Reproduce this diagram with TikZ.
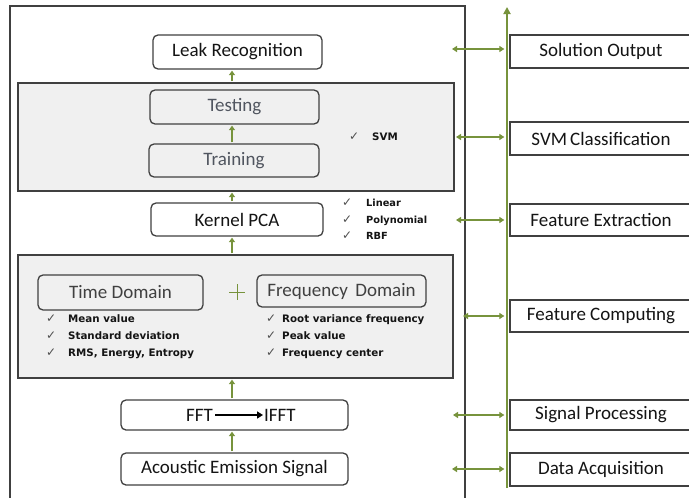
\documentclass[tikz,border=0pt]{standalone}
\usepackage{fontspec}
\setmainfont{Carlito}
\newfontfamily\listf{DejaVu Sans}
\usetikzlibrary{arrows.meta}
\definecolor{grn}{RGB}{119,147,60}
\definecolor{boxc}{RGB}{64,64,64}
\definecolor{panelc}{RGB}{240,240,240}
\definecolor{txt}{RGB}{20,20,20}
\definecolor{txtg}{RGB}{80,85,95}
\definecolor{ckc}{RGB}{80,80,80}
\newcommand{\bigf}{\fontsize{19}{22}\selectfont}
\newcommand{\smf}{\listf\bfseries\fontsize{10.3}{17}\selectfont}
\newcommand{\ckm}[1]{\makebox[#1][l]{\color{ckc}\listf\mdseries\fontsize{12}{12}\selectfont ✓}}
\tikzset{
  box/.style={draw=boxc, line width=1.3pt, rounded corners=5pt, fill=white, font=\bigf, text=txt, inner sep=0pt},
  ibox/.style={draw=boxc, line width=1.3pt, rounded corners=5pt, font=\bigf, inner sep=0pt},
  panel/.style={draw=boxc, line width=1.3pt, fill=panelc, inner sep=0pt},
  rbox/.style={draw=boxc, line width=1.3pt, fill=white, font=\bigf, text=txt, inner sep=0pt},
  uparr/.style={draw=grn, line width=1.8pt, -{Triangle[length=4.5pt,width=6pt]}, shorten <=1pt, shorten >=1pt},
  darr/.style={draw=grn, line width=1.8pt, {Triangle[length=5pt,width=6pt]}-{Triangle[length=5pt,width=6pt]}},
  lst/.style={anchor=west, align=left, inner sep=0pt, text=txt, font=\smf},
}
\begin{document}
\begin{tikzpicture}[x=1pt, y=-1pt]
\clip (0,0) rectangle (689,498);
\fill[white] (0,0) rectangle (689,498);
% outer frame
\draw[boxc, line width=1.3pt] (10,510) -- (10,6) -- (465,6) -- (465,510);
\coordinate (ax) at (232,0);

% left column
\node[box, minimum width=169pt, minimum height=34pt] (leak) at (237.5,52) {Leak Recognition};
\node[panel, minimum width=436pt, minimum height=108pt] (svmp) at (236,137) {};
\node[ibox, text=txtg, minimum width=169pt, minimum height=34pt] (test) at (234.5,107) {Testing};
\node[ibox, text=txtg, minimum width=170pt, minimum height=33pt] (train) at (234,160.5) {Training};
\node[lst] (svml) at (349,137) {\ckm{23pt}SVM};

\node[box, minimum width=172pt, minimum height=33pt] (kpca) at (237,219.5) {Kernel PCA};
\node[lst, font=\listf\bfseries\fontsize{9.8}{16.5}\selectfont] (kl) at (342,219.5) {\ckm{24pt}Linear\\\ckm{24pt}Polynomial\\\ckm{24pt}RBF};

\node[panel, minimum width=435pt, minimum height=123pt] (fpan) at (235.5,316.5) {};
\node[ibox, text=boxc, minimum width=165pt, minimum height=35pt] (td) at (120.5,292.5) {Time Domain};
\node[ibox, text=boxc, minimum width=169pt, minimum height=32pt] (fd) at (341.5,291) {Frequency\, Domain};
\node[lst] (tdl) at (46,336.5) {\ckm{22pt}Mean value\\\ckm{22pt}Standard deviation\\\ckm{22pt}RMS, Energy, Entropy};
\node[lst] (fdl) at (266,336.5) {\ckm{16pt}Root variance frequency\\\ckm{16pt}Peak value\\\ckm{16pt}Frequency center};
\draw[grn, line width=0.8pt] (229,292) -- (245,292) (237,284) -- (237,300);

\node[box, minimum width=227pt, minimum height=30pt] (fft) at (234.5,415) {};
\node[anchor=east, inner sep=0pt, font=\bigf, text=txt] (fftt) at (213,415) {FFT};
\node[anchor=west, inner sep=0pt, font=\bigf, text=txt] (ifft) at (264,415) {IFFT};
\draw[black, line width=1.7pt, -{Triangle[length=6pt,width=7pt]}, shorten >=1pt] (fftt.east) ++(2pt,0) -- (ifft.west);
\node[box, minimum width=227pt, minimum height=32pt] (aes) at (234.5,469) {Acoustic Emission Signal};

% vertical arrows
\draw[uparr] (svmp.north -| ax) -- (leak.south -| ax);
\draw[uparr] (train.north -| ax) -- (test.south -| ax);
\draw[uparr] (kpca.north -| ax) -- (svmp.south -| ax);
\draw[uparr] (fpan.north -| ax) -- (kpca.south -| ax);
\draw[uparr] (fft.north -| ax) -- (fpan.south -| ax);
\draw[uparr] (aes.north -| ax) -- (fft.south -| ax);

% right column
\node[rbox, minimum width=182pt, minimum height=33pt] (sol) at (601,51.5) {Solution Output};
\node[rbox, minimum width=182pt, minimum height=33pt] (svmc) at (601,138.5) {SVM\,Classification};
\node[rbox, minimum width=182pt, minimum height=32pt] (fext) at (601,220) {Feature Extraction};
\node[rbox, minimum width=182pt, minimum height=32pt] (fcomp) at (601,316) {Feature Computing};
\node[rbox, minimum width=182pt, minimum height=30pt] (sigp) at (601,415) {Signal Processing};
\node[rbox, minimum width=182pt, minimum height=33pt] (daq) at (601,469.5) {Data Acquisition};

\coordinate (vb) at (507,488);
\coordinate (vt) at (507,7);
\draw[grn, line width=2pt, -{Triangle[length=7pt,width=7pt]}] (vb) -- (vt);

\coordinate (l1) at (452,49);
\coordinate (l2) at (456,137);
\coordinate (l3) at (456,220);
\coordinate (l4) at (463,316);
\coordinate (l5) at (453,415);
\coordinate (l6) at (452,469);
\draw[darr, shorten >=5pt] (l1) -- (l1 -| sol.west);
\draw[darr, shorten >=5pt] (l2) -- (l2 -| svmc.west);
\draw[darr, shorten >=5pt] (l3) -- (l3 -| fext.west);
\draw[darr, shorten >=5pt] (l4) -- (l4 -| fcomp.west);
\draw[darr, shorten >=5pt] (l5) -- (l5 -| sigp.west);
\draw[darr, shorten >=5pt] (l6) -- (l6 -| daq.west);
\end{tikzpicture}
\end{document}
